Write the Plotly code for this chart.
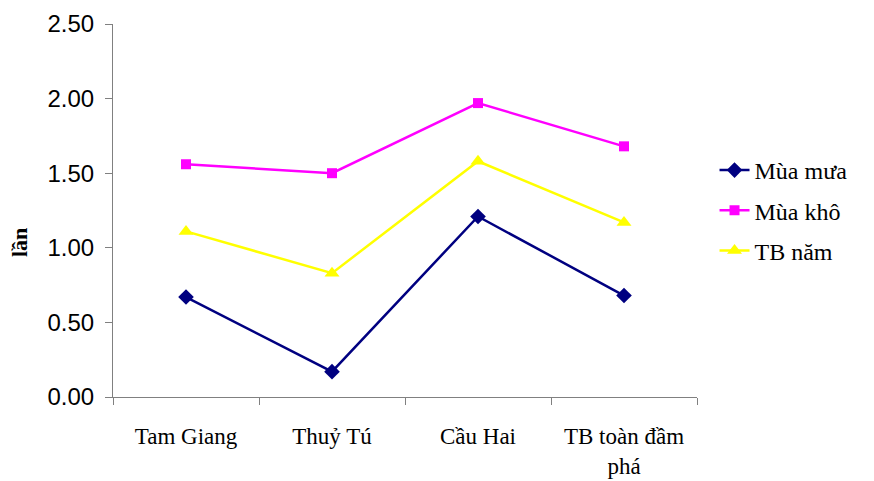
import plotly.graph_objects as go

categories = ["Tam Giang", "Thuỷ Tú", "Cầu Hai", "TB toàn đầm<br>phá"]
mua_mua = [0.67, 0.17, 1.21, 0.68]
mua_kho = [1.56, 1.50, 1.97, 1.68]
tb_nam = [1.11, 0.83, 1.58, 1.17]
y_ticks = [0, 0.5, 1.0, 1.5, 2.0, 2.5]

SERIF = "Liberation Serif, Times New Roman, serif"

fig = go.Figure()
series = [
    ("Mùa mưa", mua_mua, "#000080", "diamond", 12),
    ("Mùa khô", mua_kho, "#FF00FF", "square", 10),
    ("TB năm", tb_nam, "#FFFF00", "triangle-up", 13),
]
for name, vals, color, sym, size in series:
    fig.add_trace(go.Scatter(
        x=categories, y=vals, name=name, mode="lines+markers",
        legendgroup=name,
        line=dict(color=color, width=2.5),
        marker=dict(symbol=sym, size=size, color=color),
    ))

fig.update_layout(
    width=874, height=481,
    margin=dict(l=113, r=177, t=24, b=84),
    paper_bgcolor="white", plot_bgcolor="white",
    showlegend=True,
    legend=dict(
        x=1.03, y=0.5, xanchor="left", yanchor="middle",
        font=dict(family=SERIF, size=24, color="black"),
        bgcolor="rgba(0,0,0,0)", tracegroupgap=6,
    ),
    annotations=[dict(
        text="<b>lần</b>", textangle=-90,
        xref="paper", yref="paper", x=-0.159, y=0.413,
        xanchor="center", yanchor="middle", showarrow=False,
        font=dict(family=SERIF, size=22, color="black"),
    )],
)
fig.update_xaxes(
    type="category", tickson="boundaries", automargin=False,
    showline=True, linecolor="#808080", linewidth=1,
    ticks="outside", ticklen=7, tickcolor="#808080",
    showgrid=False, zeroline=False,
    tickfont=dict(family=SERIF, size=23, color="black"),
    ticklabelstandoff=18,
    range=[-0.5, 3.5],
)
fig.update_yaxes(
    range=[0, 2.5], tickvals=y_ticks, tickformat=".2f", automargin=False,
    showline=True, linecolor="#808080", linewidth=1,
    ticks="outside", ticklen=7, tickcolor="#808080",
    showgrid=False, zeroline=False,
    tickfont=dict(family="Liberation Sans", size=24, color="black"),
    ticklabelstandoff=6,
)

fig.write_html("out.html")
